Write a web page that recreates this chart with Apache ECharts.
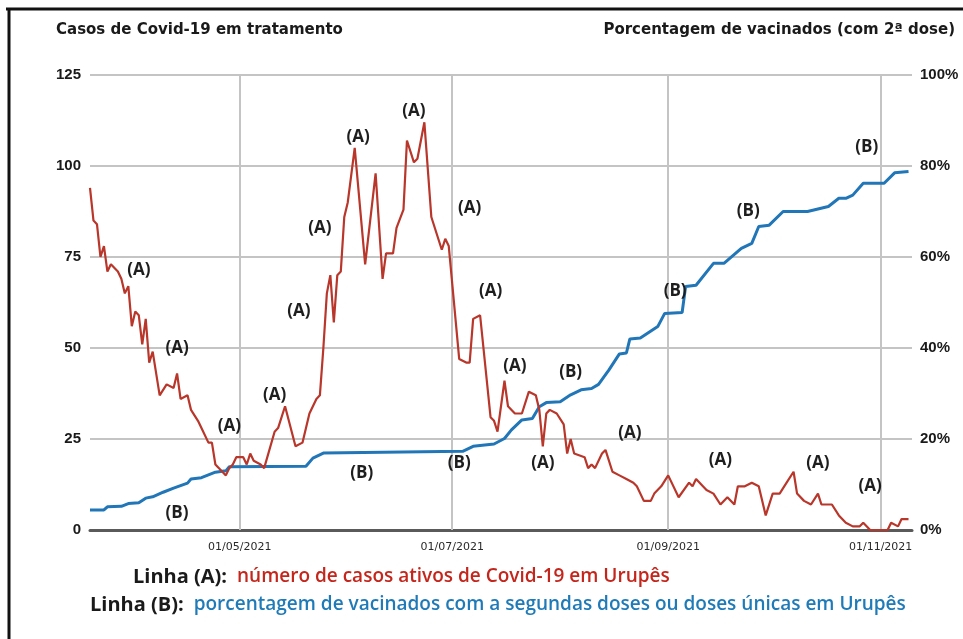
<!DOCTYPE html>
<html>
<head>
<meta charset="utf-8">
<script src="https://cdn.jsdelivr.net/npm/echarts@6/dist/echarts.min.js"></script>
<style>
  html, body { margin: 0; padding: 0; background: #fff; }
  #main { width: 963px; height: 639px; }
</style>
</head>
<body>
<div id="main"></div>
<script>
// Linha (A): casos ativos
var datasA = ['2021-03-19','2021-03-20','2021-03-21','2021-03-22','2021-03-23','2021-03-24','2021-03-25','2021-03-27','2021-03-28','2021-03-29',
  '2021-03-30','2021-03-31','2021-04-01','2021-04-02','2021-04-03','2021-04-04','2021-04-05','2021-04-06','2021-04-08','2021-04-10',
  '2021-04-12','2021-04-13','2021-04-14','2021-04-16','2021-04-17','2021-04-19','2021-04-20','2021-04-22','2021-04-23','2021-04-24',
  '2021-04-26','2021-04-27','2021-04-28','2021-04-29','2021-04-30','2021-05-02','2021-05-03','2021-05-04','2021-05-05','2021-05-07',
  '2021-05-08','2021-05-11','2021-05-12','2021-05-14','2021-05-17','2021-05-19','2021-05-21','2021-05-23','2021-05-24','2021-05-25',
  '2021-05-26','2021-05-27','2021-05-28','2021-05-29','2021-05-30','2021-05-31','2021-06-01','2021-06-03','2021-06-06','2021-06-09',
  '2021-06-11','2021-06-12','2021-06-14','2021-06-15','2021-06-17','2021-06-18','2021-06-20','2021-06-21','2021-06-23','2021-06-25',
  '2021-06-28','2021-06-29','2021-06-30','2021-07-03','2021-07-05','2021-07-06','2021-07-07','2021-07-09','2021-07-12','2021-07-13',
  '2021-07-14','2021-07-16','2021-07-17','2021-07-19','2021-07-21','2021-07-23','2021-07-25','2021-07-26','2021-07-27','2021-07-28',
  '2021-07-29','2021-07-31','2021-08-02','2021-08-03','2021-08-04','2021-08-05','2021-08-08','2021-08-09','2021-08-10','2021-08-11',
  '2021-08-13','2021-08-14','2021-08-16','2021-08-18','2021-08-20','2021-08-22','2021-08-23','2021-08-25','2021-08-27','2021-08-28',
  '2021-08-30','2021-09-01','2021-09-04','2021-09-07','2021-09-08','2021-09-09','2021-09-12','2021-09-14','2021-09-16','2021-09-18',
  '2021-09-20','2021-09-21','2021-09-23','2021-09-25','2021-09-27','2021-09-29','2021-10-01','2021-10-03','2021-10-05','2021-10-07',
  '2021-10-08','2021-10-10','2021-10-12','2021-10-14','2021-10-15','2021-10-18','2021-10-20','2021-10-22','2021-10-24','2021-10-26',
  '2021-10-27','2021-10-29','2021-11-03','2021-11-04','2021-11-06','2021-11-07','2021-11-09'];
var casosA = [94,85,84,75,78,71,73,71,69,65,
  67,56,60,59,51,58,46,49,37,40,
  39,43,36,37,33,30,28,24,24,18,
  16,15,17,18,20,20,18,21,19,18,
  17,27,28,34,23,24,32,36,37,50,
  65,70,57,70,71,86,90,105,73,98,
  69,76,76,83,88,107,101,102,112,86,
  77,80,78,47,46,46,58,59,31,30,
  27,41,34,32,32,38,37,33,23,32,
  33,32,29,21,25,21,20,17,18,17,
  21,22,16,15,14,13,12,8,8,10,
  12,15,9,13,12,14,11,10,7,9,
  7,12,12,13,12,4,10,10,13,16,
  10,8,7,10,7,7,4,2,1,1,
  2,0,0,2,1,3,3];

// Linha (B): % vacinados com 2a dose / dose unica
var datasB = ['2021-03-19','2021-03-23','2021-03-24','2021-03-28','2021-03-30','2021-04-02','2021-04-04','2021-04-06','2021-04-09','2021-04-12',
  '2021-04-16','2021-04-17','2021-04-20','2021-04-22','2021-04-24','2021-04-27','2021-04-28','2021-05-20','2021-05-22','2021-05-25',
  '2021-07-04','2021-07-07','2021-07-13','2021-07-16','2021-07-18','2021-07-21','2021-07-24','2021-07-26','2021-07-28','2021-08-01',
  '2021-08-04','2021-08-07','2021-08-10','2021-08-12','2021-08-15','2021-08-18','2021-08-20','2021-08-21','2021-08-24','2021-08-29',
  '2021-08-31','2021-09-05','2021-09-06','2021-09-09','2021-09-14','2021-09-17','2021-09-22','2021-09-25','2021-09-27','2021-09-30',
  '2021-10-04','2021-10-11','2021-10-17','2021-10-20','2021-10-22','2021-10-24','2021-10-27','2021-11-02','2021-11-05','2021-11-09'];
var vacinadosB = [4.4,4.4,5.1,5.2,5.8,6.0,7.0,7.3,8.3,9.2,
  10.3,11.2,11.5,12.1,12.7,13.0,13.9,14.0,15.8,16.9,
  17.3,18.4,18.9,20.1,22.0,24.2,24.5,27.1,28.0,28.2,
  29.7,30.8,31.1,32.0,35.2,38.7,38.9,42.0,42.2,44.7,
  47.6,47.8,53.5,53.8,58.6,58.6,61.9,63.0,66.7,67.0,
  70.0,70.0,71.1,72.9,72.9,73.6,76.2,76.2,78.5,78.8];

// rotulos "(A)" e "(B)" sobre o grafico
var rotuloDatasA = ['2021-04-02','2021-04-13','2021-04-28','2021-05-11','2021-05-18','2021-05-24','2021-06-04','2021-06-20',
  '2021-07-06','2021-07-12','2021-07-19','2021-07-27','2021-08-21','2021-09-16','2021-10-14','2021-10-29'];
var rotuloValA = [71.4,49.9,28.4,37.1,60,82.9,108,115.2,88.4,65.5,44.9,18.3,26.6,19.2,18.3,12.1];
var rotuloDatasB = ['2021-04-13','2021-06-05','2021-07-03','2021-08-04','2021-09-03','2021-09-24','2021-10-28'];
var rotuloValB = [3.7,12.5,14.7,34.8,52.5,70,84.2];

var ticksX = ['2021-05-01','2021-07-01','2021-09-01','2021-11-01'];
var xMin = '2021-03-19', xMax = '2021-11-10';

function parseData(s) {
  var p = s.split('-');
  return new Date(+p[0], +p[1] - 1, +p[2]).getTime();
}
function pad(n) { return n < 10 ? '0' + n : '' + n; }
function fmtData(v) {
  var d = new Date(v);
  return pad(d.getDate()) + '/' + pad(d.getMonth() + 1) + '/' + d.getFullYear();
}

var myChart = echarts.init(document.getElementById('main'));

var serieA = datasA.map(function (d, i) { return [parseData(d), casosA[i]]; });
var serieB = datasB.map(function (d, i) { return [parseData(d), vacinadosB[i]]; });
var rotStyle = { show: true, position: 'inside', formatter: '{b}', color: '#1e1e1e', fontSize: 17, fontWeight: 'bold', fontFamily: 'Open Sans' };
var pontosA = rotuloDatasA.map(function (d, i) { return { name: '(A)', coord: [parseData(d), rotuloValA[i]] }; });
var pontosB = rotuloDatasB.map(function (d, i) { return { name: '(B)', coord: [parseData(d), rotuloValB[i]] }; });
// linhas verticais da grade + rotulos de data
var linhasX = ticksX.map(function (d) { return { xAxis: parseData(d) }; });

var eixoFonte = { color: '#1a1a1a', fontSize: 15, fontWeight: 'bold', fontFamily: 'Liberation Sans' };
var tituloFonte = { color: '#1a1a1a', fontSize: 15, fontWeight: 'bold', fontFamily: 'DejaVu Sans' };

var option = {
  backgroundColor: '#fff',
  animation: false,
  grid: { left: 90, right: 51, top: 75, bottom: 109 },
  title: [
    { text: 'Casos de Covid-19 em tratamento', left: 56, top: 23, padding: 0, textStyle: tituloFonte },
    { text: 'Porcentagem de vacinados (com 2ª dose)', right: 8, top: 23, padding: 0, textStyle: tituloFonte },
    { text: '{k|Linha (A):}  {a|número de casos ativos de Covid-19 em Urupês}', left: 133, top: 567, padding: 0,
      textStyle: { rich: {
        k: { color: '#1a1a1a', fontSize: 20, fontFamily: 'Open Sans' },
        a: { color: '#c4261c', fontSize: 19, fontWeight: 600, fontFamily: 'Open Sans' } } } },
    { text: '{k|Linha (B):}  {b|porcentagem de vacinados com a segundas doses ou doses únicas em Urupês}', left: 90, top: 595, padding: 0,
      textStyle: { rich: {
        k: { color: '#1a1a1a', fontSize: 20, fontFamily: 'Open Sans' },
        b: { color: '#1f7ab8', fontSize: 19, fontWeight: 600, fontFamily: 'Open Sans' } } } }
  ],
  xAxis: {
    type: 'time',
    min: parseData(xMin),
    max: parseData(xMax),
    axisLine: { lineStyle: { color: '#5a5a5a', width: 3 } },
    axisTick: { show: false },
    axisLabel: { show: false },
    splitLine: { show: false }
  },
  yAxis: [
    { type: 'value', min: 0, max: 125, interval: 25,
      axisLine: { show: false }, axisTick: { show: false },
      axisLabel: Object.assign({ margin: 9 }, eixoFonte),
      splitLine: { lineStyle: { color: '#c4c4c4', width: 2 } } },
    { type: 'value', min: 0, max: 100, interval: 20,
      axisLine: { show: false }, axisTick: { show: false },
      axisLabel: Object.assign({ margin: 8, formatter: '{value}%' }, eixoFonte),
      splitLine: { show: false } }
  ],
  series: [
    { name: 'B', type: 'line', yAxisIndex: 1, data: serieB, showSymbol: false, symbol: 'none',
      lineStyle: { color: '#2176b8', width: 3 }, itemStyle: { color: '#2176b8' }, z: 3,
      markLine: { silent: true, symbol: 'none', z: 1,
        lineStyle: { color: '#c4c4c4', width: 2, type: 'solid' },
        label: { show: true, position: 'start', distance: 12, color: '#2a2a2a', fontSize: 11, fontFamily: 'DejaVu Sans',
          formatter: function (p) { return fmtData(p.value); } },
        data: linhasX },
      markPoint: { symbol: 'rect', symbolSize: 1, itemStyle: { color: 'transparent' }, label: rotStyle, data: pontosB } },
    { name: 'A', type: 'line', yAxisIndex: 0, data: serieA, showSymbol: false, symbol: 'none',
      lineStyle: { color: '#b9362b', width: 2.2 }, itemStyle: { color: '#b9362b' }, z: 4,
      markPoint: { symbol: 'rect', symbolSize: 1, itemStyle: { color: 'transparent' }, label: rotStyle, data: pontosA } }
  ],
  graphic: [
    { type: 'line', shape: { x1: 6, y1: 9, x2: 963, y2: 9 }, style: { stroke: '#111', lineWidth: 3 } },
    { type: 'line', shape: { x1: 9, y1: 8, x2: 9, y2: 639 }, style: { stroke: '#111', lineWidth: 3 } }
  ]
};

myChart.setOption(option);
</script>
</body>
</html>
